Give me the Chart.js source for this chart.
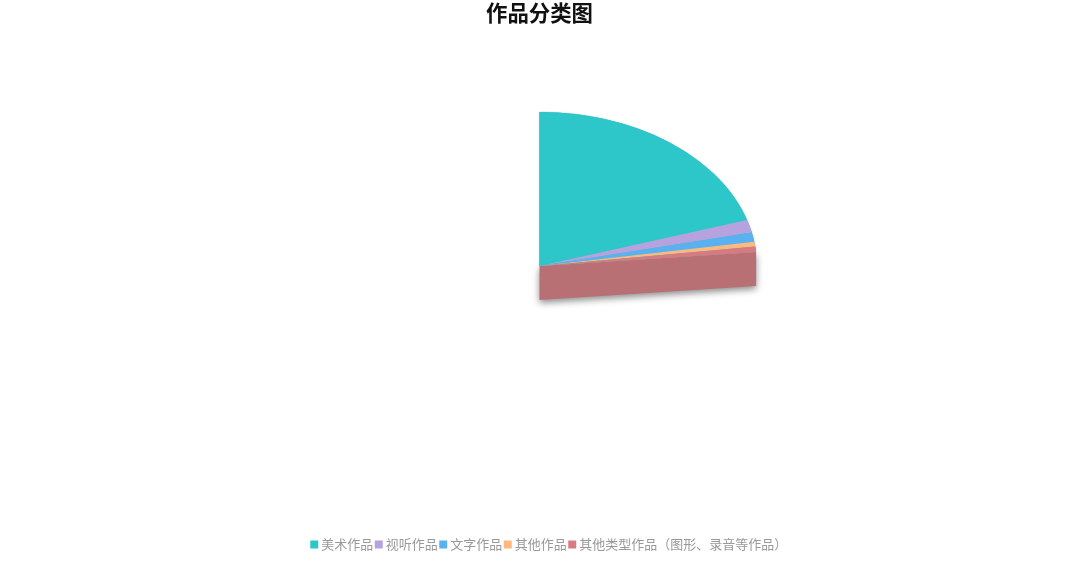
<!DOCTYPE html>
<html>
<head>
<meta charset="utf-8">
<script src="https://cdn.jsdelivr.net/npm/chart.js@4"></script>
<style>
  html, body { margin: 0; padding: 0; background: #fff; }
  canvas { display: block; }
</style>
</head>
<body>
<canvas id="pie" width="1079" height="562"></canvas>
<script>
var categories = ["美术作品", "视听作品", "文字作品", "其他作品", "其他类型作品（图形、录音等作品）"];
var shares = [85.6, 5.7, 4.2, 2.1, 2.4];
var colors = ["#2ec7c9", "#b6a2de", "#5ab1ef", "#ffb980", "#d87a80"];

// the reference is a tilted pie caught part way through its opening sweep
var sweep = 84.8;
var centerX = 539.5, centerY = 266, radiusX = 217.5, radiusY = 154, depth = 34;
var wallColor = "#b87075";
var legendShift = 11;

var tiltPlugin = {
  id: "tilt",
  afterLayout: function (chart) {
    // legend sits a little right of the title in the reference
    chart.legend.left += legendShift;
    chart.legend.right += legendShift;
  },
  beforeDatasetsDraw: function (chart) {
    var ctx = chart.ctx;
    var arcs = chart.getDatasetMeta(0).data;
    var first = arcs[0], last = arcs[arcs.length - 1];
    var endX = centerX + radiusX * Math.cos(last.endAngle);
    var endY = centerY + radiusY * Math.sin(last.endAngle);

    // top face only gets a thin edge
    ctx.save();
    ctx.shadowColor = "rgba(0,0,0,0.4)";
    ctx.shadowBlur = 1.5;
    ctx.fillStyle = colors[0];
    ctx.beginPath();
    ctx.moveTo(centerX, centerY);
    ctx.ellipse(centerX, centerY, radiusX, radiusY, 0, first.startAngle, last.endAngle);
    ctx.closePath();
    ctx.fill();

    // side wall, softer shadow falling downwards
    ctx.shadowColor = "rgba(0,0,0,0.45)";
    ctx.shadowBlur = 7;
    ctx.shadowOffsetY = 3;
    ctx.fillStyle = wallColor;
    ctx.beginPath();
    ctx.moveTo(centerX, centerY);
    ctx.lineTo(endX, endY);
    ctx.lineTo(endX, endY + depth);
    ctx.lineTo(centerX, centerY + depth);
    ctx.closePath();
    ctx.fill();
    ctx.restore();

    // squash the library's round arcs into the tilted ellipse
    ctx.save();
    ctx.translate(centerX, centerY);
    ctx.scale(radiusX / first.outerRadius, radiusY / first.outerRadius);
    ctx.translate(-first.x, -first.y);
  },
  afterDatasetsDraw: function (chart) {
    chart.ctx.restore();
  }
};

new Chart(document.getElementById("pie"), {
  type: "pie",
  data: {
    labels: categories,
    datasets: [{
      data: shares,
      backgroundColor: colors,
      borderWidth: 0,
      hoverOffset: 0
    }]
  },
  options: {
    responsive: false,
    animation: false,
    rotation: 0,
    circumference: sweep,
    plugins: {
      tooltip: { enabled: false },
      title: {
        display: true,
        text: "作品分类图",
        color: "#111",
        font: { family: "'Noto Sans CJK SC'", size: 21.4, weight: "bold" },
        padding: { top: 0, bottom: 10 }
      },
      legend: {
        position: "bottom",
        labels: {
          usePointStyle: true,
          pointStyle: "rect",
          boxWidth: 1,
          boxHeight: 8,
          padding: 5,
          color: "#999",
          font: { family: "'Noto Sans CJK SC'", size: 13 }
        }
      }
    },
    layout: { padding: { bottom: 1 } }
  },
  plugins: [tiltPlugin]
});
</script>
</body>
</html>
